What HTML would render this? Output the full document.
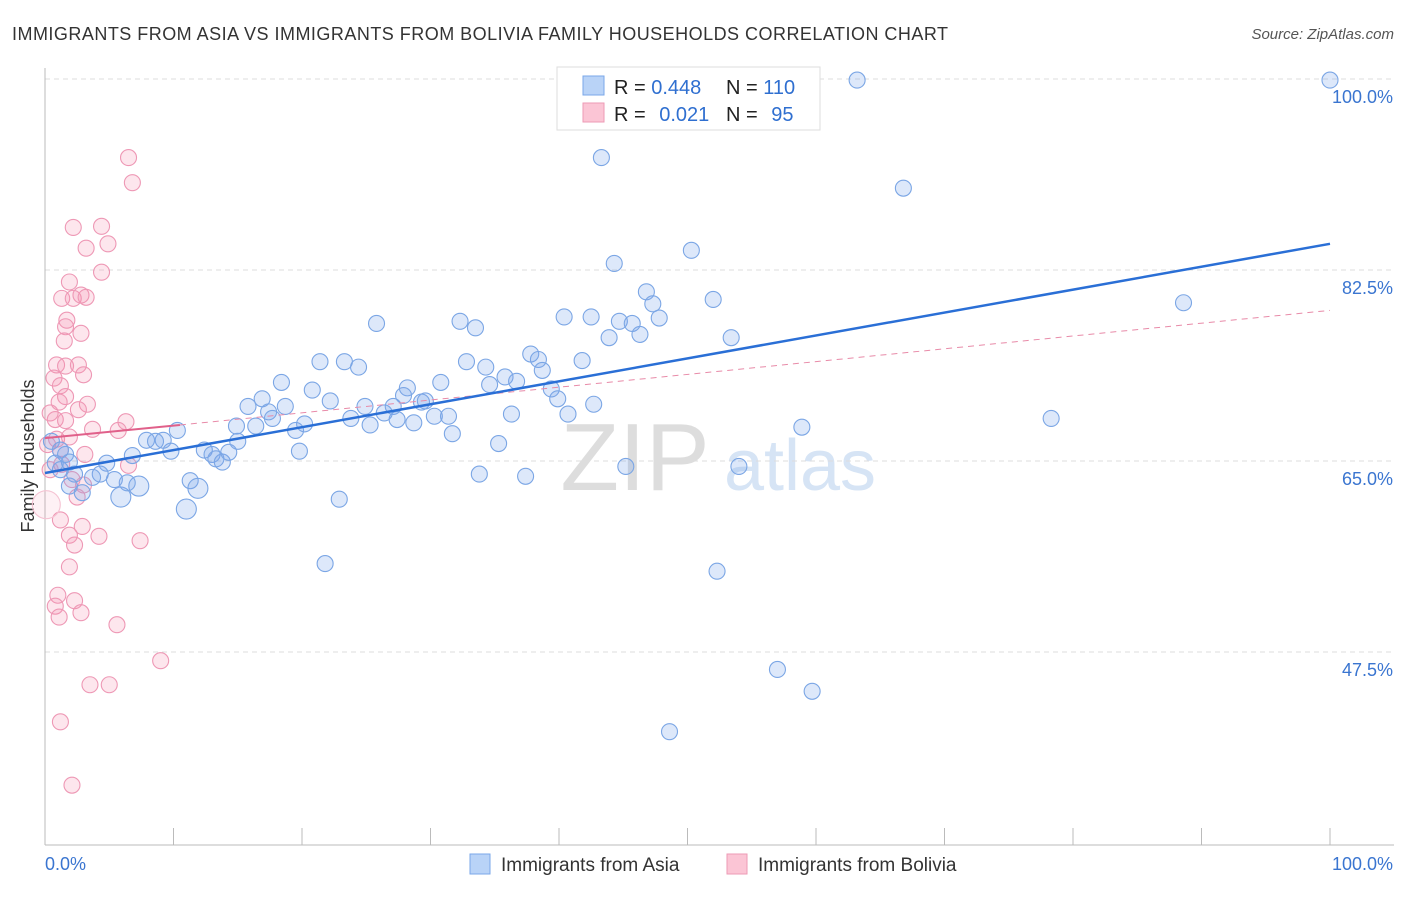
<!DOCTYPE html>
<html><head><meta charset="utf-8"><style>
body{margin:0;background:#fff;font-family:"Liberation Sans",sans-serif;}
svg text{font-family:"Liberation Sans",sans-serif;}
</style></head><body>
<svg id="c" width="1406" height="892">
<text x="12" y="40" font-size="18" fill="#333" textLength="936" lengthAdjust="spacing">IMMIGRANTS FROM ASIA VS IMMIGRANTS FROM BOLIVIA FAMILY HOUSEHOLDS CORRELATION CHART</text>
<text x="1394" y="39" font-size="15" fill="#555" text-anchor="end" font-style="italic">Source: ZipAtlas.com</text>
<text x="34" y="456" font-size="18" fill="#333" text-anchor="middle" transform="rotate(-90 34 456)">Family Households</text>
<text x="635" y="490" font-size="96" fill="#ddd" text-anchor="middle" font-family="Liberation Serif">ZIP</text>
<text x="800" y="490" font-size="72" fill="#d6e4f5" text-anchor="middle">atlas</text>
<g id="grid"></g><g id="pts"></g><g id="trend"></g>
<g>
<rect x="557" y="67" width="263" height="63" fill="#fff" stroke="#ddd"/>
<rect x="583" y="76" width="21" height="19" fill="#b9d3f7" stroke="#7aa7e8"/>
<rect x="583" y="103" width="21" height="19" fill="#fbc5d5" stroke="#ee9ab5"/>
<text x="614" y="94" font-size="20" fill="#222">R = <tspan fill="#2f6fd0">0.448</tspan></text>
<text x="726" y="94" font-size="20" fill="#222">N = <tspan fill="#2f6fd0">110</tspan></text>
<text x="614" y="121" font-size="20" fill="#222">R = <tspan fill="#2f6fd0" dx="8">0.021</tspan></text>
<text x="726" y="121" font-size="20" fill="#222">N = <tspan fill="#2f6fd0" dx="8">95</tspan></text>
</g>
<g>
<rect x="470" y="854" width="20" height="20" fill="#b9d3f7" stroke="#7aa7e8"/>
<text x="501" y="871" font-size="19" fill="#333">Immigrants from Asia</text>
<rect x="727" y="854" width="20" height="20" fill="#fbc5d5" stroke="#ee9ab5"/>
<text x="758" y="871" font-size="19" fill="#333">Immigrants from Bolivia</text>
</g>
</svg>
<script>
const yTicks=[100,82.5,65,47.5];
const yTickLabels=["100.0%","82.5%","65.0%","47.5%"];
const asiaX=[100,63.2,43.3,66.8,50.3,44.3,88.6,52.0,46.8,47.3,47.8,40.4,42.5,44.7,45.7,43.9,46.3,53.4,25.8,32.3,33.5,37.8,38.4,38.7,41.8,32.8,34.3,35.8,36.7,34.6,21.4,23.3,24.4,30.8,28.2,27.9,18.4,20.8,22.2,16.9,18.7,15.8,17.4,17.7,24.9,27.1,29.3,29.6,26.4,27.4,28.7,30.3,31.4,23.8,25.3,19.5,20.2,16.4,15.0,14.9,31.7,35.3,36.3,39.4,39.9,40.7,42.7,19.8,33.8,37.4,22.9,21.8,45.2,54.0,58.9,78.3,52.3,57.0,59.7,48.6,10.3,9.2,7.9,8.6,9.8,6.8,12.4,13.0,13.3,13.8,14.3,11.3,11.9,11.0,7.3,5.9,6.4,4.8,4.3,3.7,5.4,2.9,2.3,1.9,1.2,0.8,1.6,0.5,1.2,1.9];
const asiaY=[99.9,99.9,92.8,90.0,84.3,83.1,79.5,79.8,80.5,79.4,78.1,78.2,78.2,77.8,77.6,76.3,76.6,76.3,77.6,77.8,77.2,74.8,74.3,73.3,74.2,74.1,73.6,72.7,72.3,72.0,74.1,74.1,73.6,72.2,71.7,71.0,72.2,71.5,70.5,70.7,70.0,70.0,69.5,68.9,70.0,70.0,70.4,70.5,69.4,68.8,68.5,69.1,69.1,68.9,68.3,67.8,68.4,68.2,66.8,68.2,67.5,66.6,69.3,71.6,70.7,69.3,70.2,65.9,63.8,63.6,61.5,55.6,64.5,64.5,68.1,68.9,54.9,45.9,43.9,40.2,67.8,66.9,66.9,66.8,65.9,65.5,66.0,65.6,65.2,64.9,65.8,63.2,62.5,60.6,62.7,61.7,63.0,64.8,63.8,63.5,63.3,62.1,63.8,62.7,64.2,64.8,65.6,66.8,66.0,64.9];
const bolX=[6.5,6.8,2.2,4.4,3.2,4.9,4.4,1.9,1.3,2.2,2.8,3.2,1.7,1.6,2.8,1.5,0.9,1.6,2.6,3.0,0.7,1.2,1.6,1.1,3.3,2.6,0.4,0.8,1.6,3.7,6.3,5.7,0.9,1.9,0.2,1.2,3.1,1.3,0.4,6.5,2.1,3.0,2.5,1.2,2.9,1.9,4.2,7.4,2.3,1.9,1.0,2.3,0.8,2.8,1.1,5.6,9.0,3.5,5.0,1.2,2.1,0.1];
const bolY=[92.8,90.5,86.4,86.5,84.5,84.9,82.3,81.4,79.9,79.9,80.2,80.0,77.9,77.3,76.7,76.0,73.8,73.7,73.8,72.9,72.6,71.9,70.9,70.4,70.2,69.7,69.4,68.8,68.7,67.9,68.6,67.8,67.0,67.2,66.5,66.0,65.6,64.7,64.2,64.6,63.3,62.8,61.7,59.6,59.0,58.2,58.1,57.7,57.3,55.3,52.7,52.2,51.7,51.1,50.7,50.0,46.7,44.5,44.5,41.1,35.3,61.0];
const asiaTrend=[[0,63.9],[100,84.9]];
const bolSolid=[[0,67.1],[10.5,68.3]];
const bolDash=[[10.5,68.3],[100,78.8]];
const X=v=>45+v*12.85, Y=v=>79+(100-v)*191/17.5;
const NS="http://www.w3.org/2000/svg";
function mk(t,a,p){const e=document.createElementNS(NS,t);for(const k in a)e.setAttribute(k,a[k]);p.appendChild(e);return e;}
const g=document.getElementById('grid');
yTicks.forEach((t,i)=>{const l=mk('line',{x1:45,x2:1394,y1:Y(t),y2:Y(t),stroke:'#ddd','stroke-dasharray':'5,4'},g);

const tx=mk('text',{x:1393,y:Y(t)+24,'font-size':18,fill:'#3a75d0','text-anchor':'end'},g);tx.textContent=yTickLabels[i];
});
const ax=mk('line',{x1:45,x2:1394,y1:845,y2:845,stroke:'#bbb'},g);
const ay=mk('line',{x1:45,x2:45,y1:68,y2:845,stroke:'#bbb'},g);
for(let i=0;i<=10;i++){const t=mk('line',{x1:X(i*10),x2:X(i*10),y1:828,y2:845,stroke:'#bbb'},g);}
let t1=mk('text',{x:45,y:870,'font-size':18,fill:'#3a75d0'},g);t1.textContent='0.0%';
let t2=mk('text',{x:1393,y:870,'font-size':18,fill:'#3a75d0','text-anchor':'end'},g);t2.textContent='100.0%';
const p=document.getElementById('pts');
bolX.forEach((x,i)=>{const big=i==bolX.length-1;const c=mk('circle',{cx:X(x),cy:Y(bolY[i]),r:big?14:8,fill:big?'rgba(244,140,175,0.12)':'rgba(244,140,175,0.22)',stroke:big?'#f5c3d3':'#ee98b5','stroke-width':1.1},p);
});
asiaX.forEach((x,i)=>{const r=(x>5&&x<12&&asiaY[i]<63)?10:8;const c=mk('circle',{cx:X(x),cy:Y(asiaY[i]),r:r,fill:'rgba(120,165,235,0.25)',stroke:'#7ba6e5','stroke-width':1.1},p);
});
const tr=document.getElementById('trend');
function ln(a,s,w,d,n){const l=mk('line',{x1:X(a[0][0]),y1:Y(a[0][1]),x2:X(a[1][0]),y2:Y(a[1][1]),stroke:s,'stroke-width':w},tr);if(d)l.setAttribute('stroke-dasharray',d);
}
ln(bolDash,'#e88aa8',1,'6,5','bolivia-trend-dashed');
ln(bolSolid,'#e0608a',2,null,'bolivia-trend');
ln(asiaTrend,'#2a6fd6',2.5,null,'asia-trend');
</script>
</body></html>
